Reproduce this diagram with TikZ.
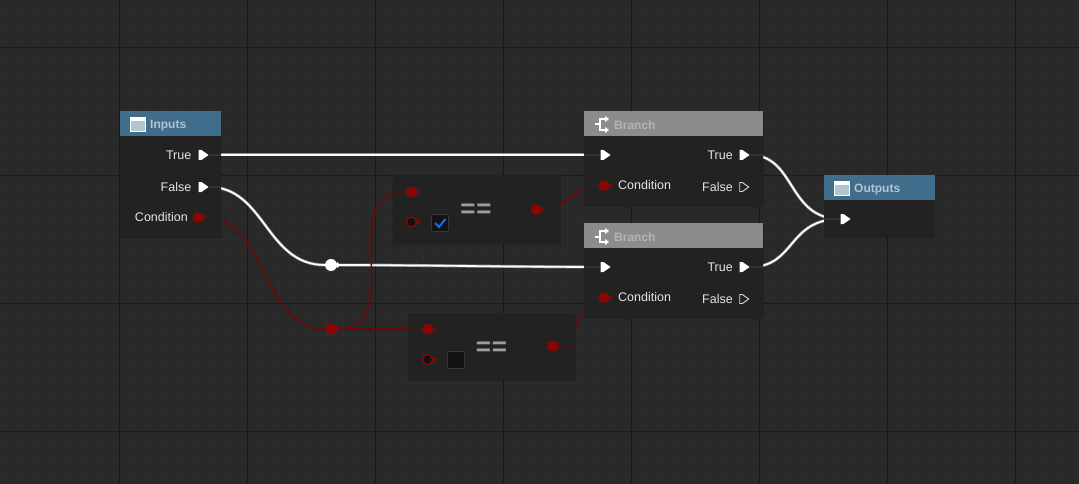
\documentclass[tikz,border=0pt]{standalone}
\usepackage{fontspec}
\setmainfont{Liberation Sans}
\usetikzlibrary{positioning,shapes.symbols,shadows}
\definecolor{gridbg}{HTML}{292929}
\definecolor{gridminor}{HTML}{2D2D2D}
\definecolor{gridmajor}{HTML}{1A1A1A}
\definecolor{panelbg}{HTML}{222222}
\definecolor{headblue}{HTML}{416D8D}
\definecolor{headgrey}{HTML}{8C8C8C}
\definecolor{pinred}{HTML}{8C0505}
\definecolor{wirered}{HTML}{6E0808}
\definecolor{wellblack}{HTML}{121212}
\pgfdeclarelayer{wires}
\pgfsetlayers{wires,main}
\tikzset{
  panel/.style={anchor=north west,fill=panelbg,inner sep=0pt,
    general shadow={fill=black,fill opacity=.07,shadow yshift=-2.5pt,shadow scale=1.01},
    general shadow={fill=black,fill opacity=.10,shadow yshift=-1pt,shadow scale=1.005}},
  header/.style={anchor=north west,inner sep=0pt,minimum height=25pt},
  title/.style={anchor=west,inner sep=0pt,font=\bfseries\fontsize{12}{12}\selectfont},
  pinlabel/.style={inner sep=0pt,text=white!90!black,font=\fontsize{12.5}{12.5}\selectfont},
  execpin/.style={signal,signal pointer angle=70,inner sep=0pt,minimum width=10pt,minimum height=10pt,fill=white},
  hollowpin/.style={execpin,fill=none,draw=white!85!black,line width=.9pt,minimum width=9pt,minimum height=9pt},
  redpin/.style={circle,inner sep=0pt,minimum size=11pt,fill=pinred},
  ringpin/.style={circle,inner sep=0pt,minimum size=10pt,fill=wellblack,draw=pinred,line width=1.4pt},
  whiteknot/.style={circle,inner sep=0pt,minimum size=12pt,fill=white},
  checkbox/.style={rounded corners=2pt,inner sep=0pt,minimum size=17pt,fill=wellblack,draw=white!22!black,line width=.8pt},
  wire/.style={preaction={draw=white!55!black,line width=3pt},draw=white,line width=1.7pt},
  redwire/.style={draw=wirered,line width=1.5pt},
  whitestub/.style={draw=white!20!black,line width=2.5pt},
  redstub/.style={draw=wirered!40!panelbg,line width=1.5pt},
  windowicon/.pic={
    \draw[white,fill=white!60!headblue,line width=1pt] (-7.5,-7) rectangle (7.5,7);
    \fill[white] (-7.5,-7) rectangle (7.5,-3.5);
  },
  branchicon/.pic={
    \draw[white,line width=2pt] (-7,0) -- (-2,0) (3,-5.5) -- (-2,-5.5) -- (-2,5.5) -- (3,5.5);
    \fill[white] (3,-8.5) -- (7,-5.5) -- (3,-2.5) -- cycle (3,2.5) -- (7,5.5) -- (3,8.5) -- cycle;
  }
}
\begin{document}
\begin{tikzpicture}[x=1pt,y=-1pt]
   \useasboundingbox (0,0) rectangle (1079,484);
   \begin{pgfonlayer}{wires}
   \fill[gridbg] (0,0) rectangle (1079,484);
   \foreach \x in {7.5,23.5,...,1079} \draw[gridminor,line width=1pt] (\x,0) -- (\x,484);
   \foreach \y in {15.5,31.5,...,484} \draw[gridminor,line width=1pt] (0,\y) -- (1079,\y);
   \foreach \x in {119.5,247.5,...,1079} \draw[gridmajor,line width=1pt] (\x,0) -- (\x,484);
   \foreach \y in {47.5,175.5,...,484} \draw[gridmajor,line width=1pt] (0,\y) -- (1079,\y);
   \end{pgfonlayer}
   % Panels and their headers
   \foreach \pos/\name/\w/\h in {{(120,111)/inputs/101/125}, {(584,111)/brancha/179/95}, {(584,223)/branchb/179/95}, {(824,175)/outputs/111/62}, {(393,175)/eqa/167/68}, {(408,313)/eqb/167/66}}
   \node[panel,minimum width=\w pt,minimum height=\h pt] (\name) at \pos {};
   \foreach \anc/\name/\col/\w in {inputs/inputshead/headblue/101, brancha/branchahead/headgrey/179, branchb/branchbhead/headgrey/179, outputs/outputshead/headblue/111}
   \node[header,fill=\col,minimum width=\w pt] (\name) at (\anc.north west) {};
   \foreach \pos/\name/\disp/\col in {{(150,125.5)/inputstitle/Inputs/white!60!headblue}, {(614,125.5)/branchatitle/Branch/white!35!headgrey}, {(614,237.5)/branchbtitle/Branch/white!35!headgrey}, {(854,189.5)/outputstitle/Outputs/white!60!headblue}}
   \node[title,text=\col] (\name) at \pos {\disp};
   \foreach \pos in {(138,124.5),(842,188.5)} \pic at \pos {windowicon};
   \foreach \pos in {(602,124.5),(602,236.5)} \pic at \pos {branchicon};
   % Pins
   \foreach \pos/\name in {{(200,155)/inputstrue}, {(200,187)/inputsfalse}, {(602,155)/branchain}, {(741,155)/branchatrue}, {(602,267)/branchbin}, {(741,267)/branchbtrue}, {(842,219)/outputsin}}
   \node[execpin] (\name) at \pos {};
   \foreach \pos/\name in {{(741,187)/branchafalse}, {(741,299)/branchbfalse}}
   \node[hollowpin] (\name) at \pos {};
   \foreach \pos/\name in {{(198,217.5)/inputscond}, {(604,185.5)/branchacond}, {(604,297.5)/branchbcond}, {(411.5,192)/eqaleft}, {(536,209.5)/eqaout}, {(427.5,329)/eqbleft}, {(552.5,346)/eqbout}, {(331,329)/redknot}}
   {\node[redpin] (\name) at \pos {};
   \fill[pinred] (\name.east) ++(-.5,-3) -- ++(3.5,3) -- ++(-3.5,3) -- cycle;}
   \foreach \pos/\name in {{(411.5,222)/eqaright}, {(427.5,359.5)/eqbright}}
   {\node[ringpin] (\name) at \pos {};
   \fill[pinred] (\name.east) ++(0,-3) -- ++(3,3) -- ++(-3,3) -- cycle;}
   \node[whiteknot] (whiteknot) at (331,265) {};
   \fill[white] (whiteknot.east) ++(0,-3) -- ++(3,3) -- ++(-3,3) -- cycle;
   % Pin labels
   \foreach \pos/\name/\disp/\anc in {{(191.5,155)/labtrue/True/east}, {(191.5,187)/labfalse/False/east}, {(188,217.5)/labcond/Condition/east}, {(618,185.5)/labcondb/Condition/west}, {(733,155)/labtrueb/True/east}, {(733,187)/labfalseb/False/east}, {(618,297.5)/labcondc/Condition/west}, {(733,267)/labtruec/True/east}, {(733,299)/labfalsec/False/east}}
   \node[pinlabel,anchor=\anc] (\name) at \pos {\disp};
   % Equals nodes
   \foreach \pos/\name in {{(476,210.5)/eqasign}, {(491.5,349)/eqbsign}}
   \node[inner sep=0pt,text=white!62!black,font=\bfseries\fontsize{26}{26}\selectfont] (\name) at \pos {=\kern1pt=};
   \node[checkbox] (checka) at (440,223) {};
   \node[checkbox] (checkb) at (456,360) {};
   \draw[blue!55!cyan,line width=2pt] (435,223) -- (439,227) -- (445.5,219);
   % Connect pins with wires
   \begin{pgfonlayer}{wires}
   \foreach \source/\dest/\bend in {inputstrue/branchain/80, inputsfalse/whiteknot/65, whiteknot/branchbin/80, branchatrue/outputsin/55, branchbtrue/outputsin/55}
   \path[wire] (\source) .. controls +(\bend,0) and +(-\bend,0) .. (\dest);
   \foreach \source/\dest/\bend in {inputscond/redknot/70, redknot/eqaleft/78, redknot/eqbleft/30, eqaout/branchacond/30, eqbout/branchbcond/25}
   \path[redwire] (\source) .. controls +(\bend,0) and +(-\bend,0) .. (\dest);
   \end{pgfonlayer}
   % Dim stubs inside the panels
   \foreach \pin/\panel/\side in {inputstrue/inputs/east, inputsfalse/inputs/east, branchain/brancha/west, branchatrue/brancha/east, branchbin/branchb/west, branchbtrue/branchb/east, outputsin/outputs/west}
   \draw[whitestub] (\pin.\side) -- (\pin -| \panel.\side);
   \foreach \pin/\panel/\side in {inputscond/inputs/east, branchacond/brancha/west, branchbcond/branchb/west, eqaleft/eqa/west, eqbleft/eqb/west, eqaout/eqa/east, eqbout/eqb/east}
   \draw[redstub] (\pin.\side) -- (\pin -| \panel.\side);
\end{tikzpicture}
\end{document}
